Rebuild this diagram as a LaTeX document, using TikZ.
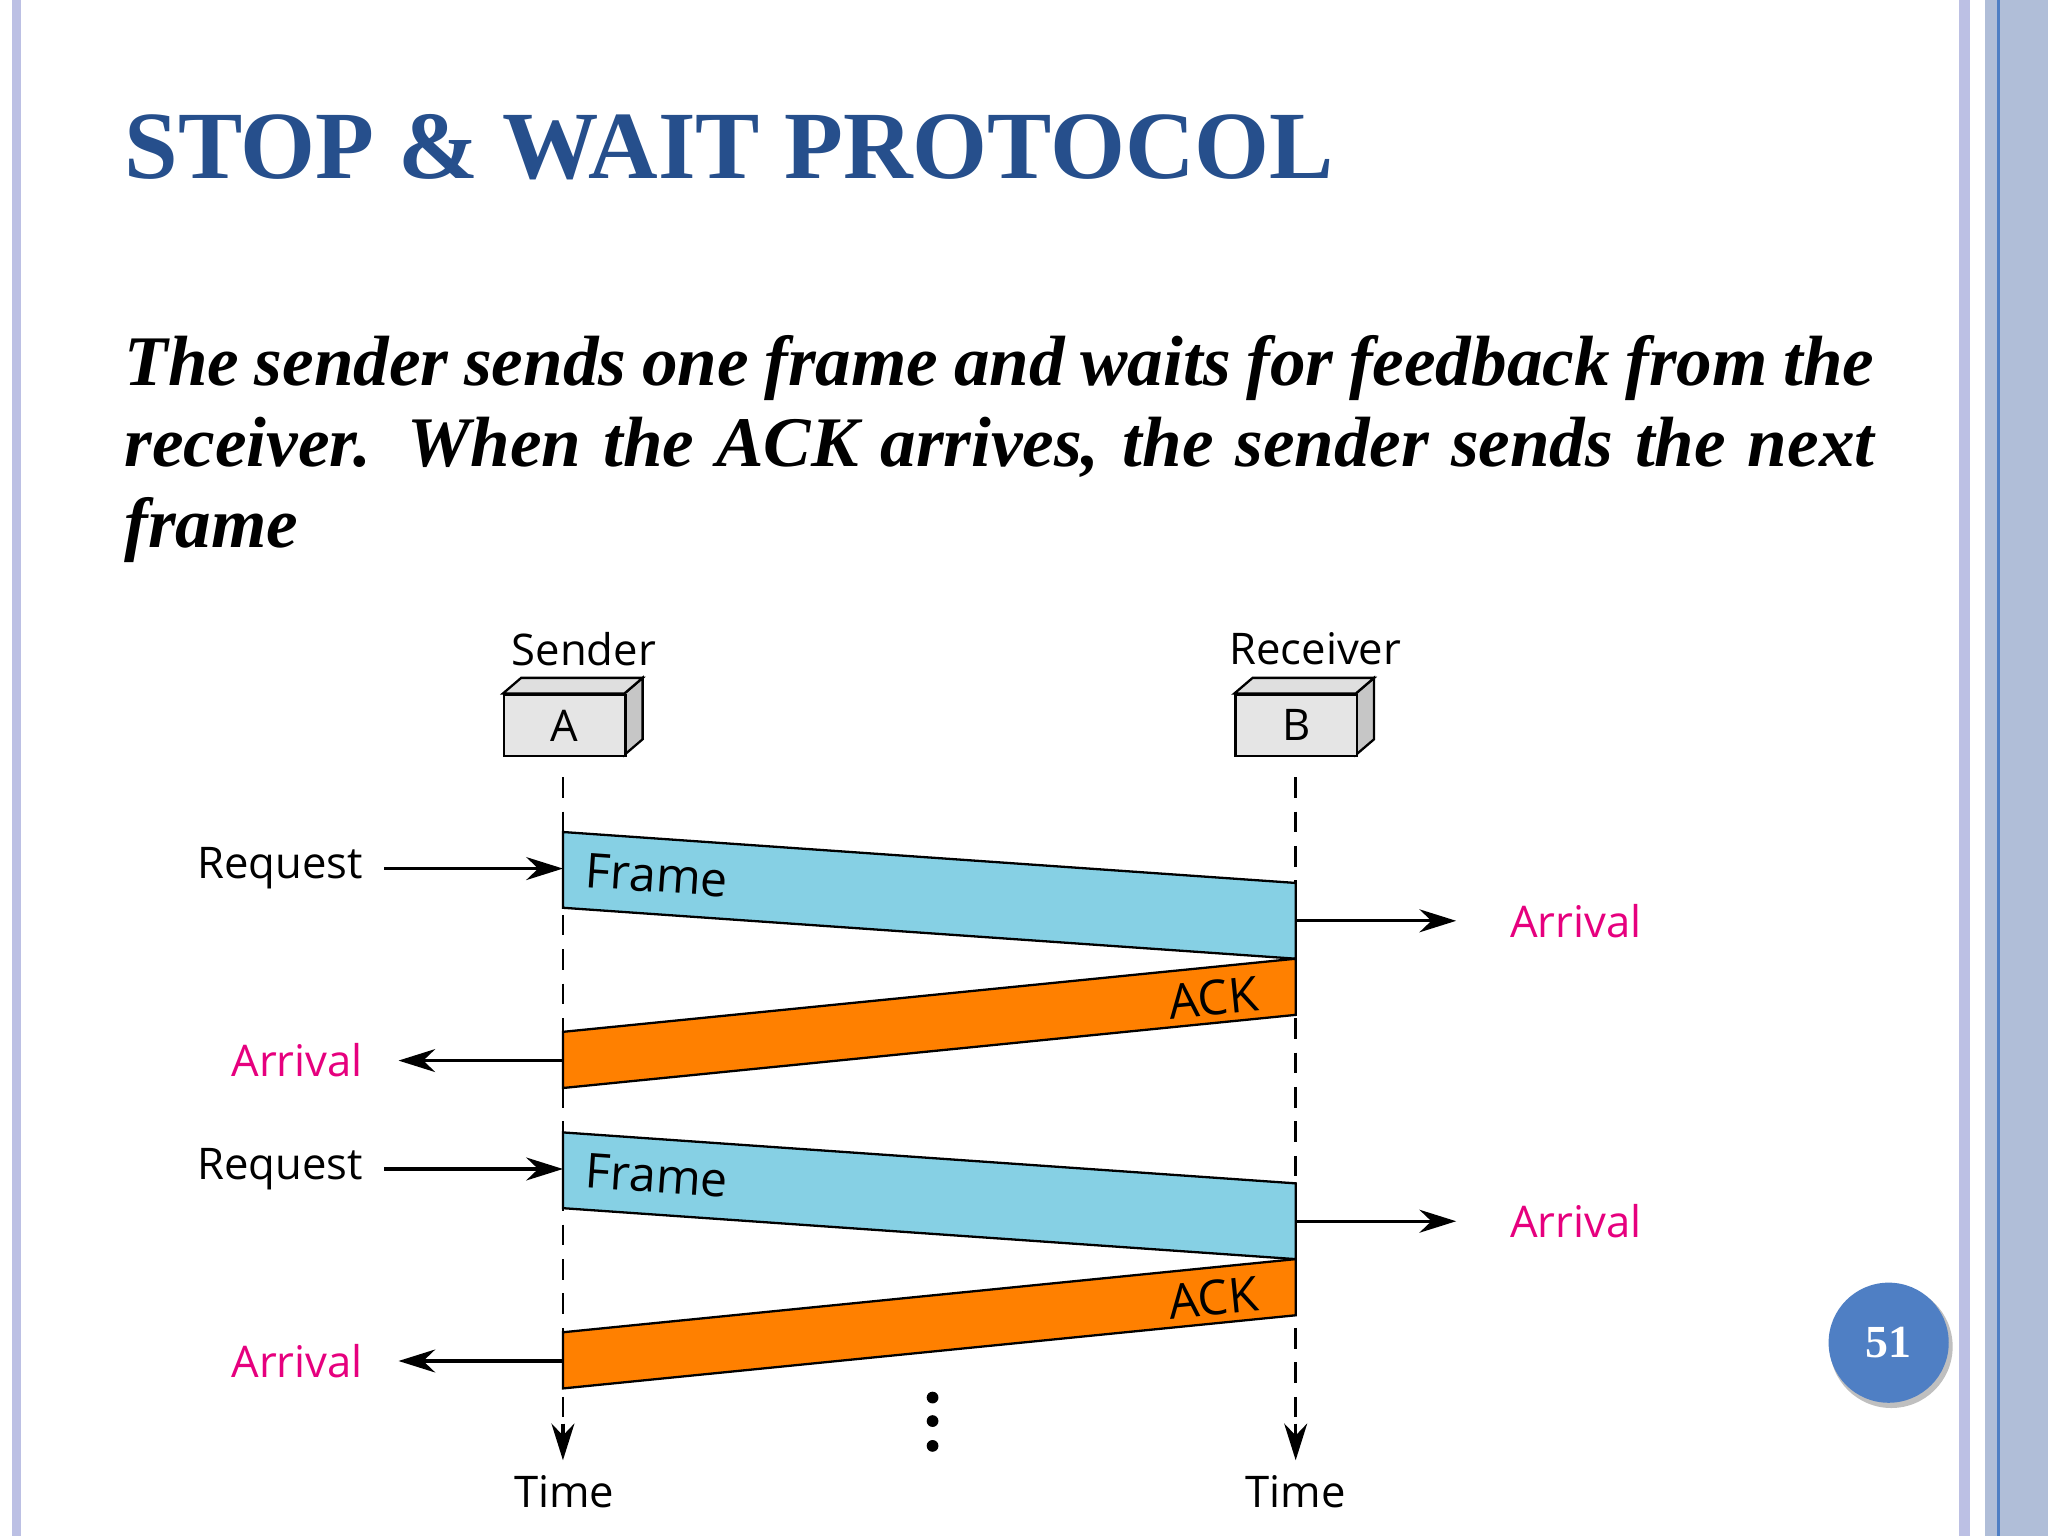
\documentclass[tikz,border=0pt]{standalone}
\usepackage{fontspec}
\setmainfont{Liberation Serif}
\newfontfamily\dsans{Open Sans}
\usetikzlibrary{arrows.meta}
\definecolor{titleblue}{HTML}{264F8C}
\definecolor{framec}{HTML}{86D0E4}
\definecolor{ackc}{HTML}{FF8000}
\definecolor{mag}{HTML}{E6007E}
\definecolor{band}{HTML}{B0BED8}
\definecolor{bandl}{HTML}{BCC0E4}
\definecolor{pg}{HTML}{4F7FC4}
\tikzset{
  lbl/.style={font=\dsans\fontsize{19}{22}\selectfont},
  arr/.style={line width=1.4pt,-{Stealth[length=16pt,width=10pt]}},
  life/.style={line width=1.1pt,dashed,dash pattern=on 9pt off 6pt},
  pkt/.style={draw=black,line width=1pt},
}
\begin{document}
\begin{tikzpicture}[x=0.02cm,y=-0.02cm]
\useasboundingbox (0,0) rectangle (1568,1176);
% borders
\fill[bandl] (9,0) rectangle (16,1176);
\fill[bandl] (1500,0) rectangle (1508,1176);
\fill[band] (1520,0) rectangle (1568,1176);
\draw[pg,line width=1pt] (1530,0) -- (1530,1176);
% title
\node[anchor=base west,inner sep=0,text=titleblue,font=\bfseries\fontsize{42}{46}\selectfont] (title) at (95,137) {STOP \& WAIT PROTOCOL};
\node[anchor=base west,inner sep=0,text width=26.8cm,align=justify,font=\bfseries\itshape\fontsize{31}{35.3}\selectfont] (para) at (95,295)
 {\hyphenpenalty=10000\exhyphenpenalty=10000 The sender sends one frame and waits for feedback from the receiver. When the ACK arrives, the sender sends the next frame};
% boxes
\foreach \n/\x/\t in {A/385/A,B/945/B}{
  \fill[gray!45,draw=black,line width=1pt] (\x+93,531) -- (\x+107,519) -- (\x+107,566) -- (\x+93,578) -- cycle;
  \fill[gray!25,draw=black,line width=1pt] (\x,531) -- (\x+14,519) -- (\x+107,519) -- (\x+93,531) -- cycle;
  \node[draw=black,line width=1pt,fill=gray!20,minimum width=1.86cm,minimum height=0.94cm,anchor=north west,inner sep=0,lbl] (box\n) at (\x,531) {\t};
}
\node[lbl] (snd) at (447,497) {Sender};
\node[lbl] (rcv) at (1007,497) {Receiver};
\coordinate (sa) at (431,595); \coordinate (sb) at (431,1118);
\coordinate (ra) at (992,595); \coordinate (rb) at (992,1118);
\draw[life] (sa) -- (431,1090); \draw[arr] (431,1090) -- (sb);
\draw[life] (ra) -- (992,1090); \draw[arr] (992,1090) -- (rb);
\node[lbl] (t1) at (432,1142) {Time};
\node[lbl] (t2) at (992,1142) {Time};
\foreach \d in {0,230}{
  \fill[framec,pkt] (431,637+\d) -- (992,676+\d) -- (992,734+\d) -- (431,695+\d) -- cycle;
  \node[lbl,font=\dsans\fontsize{21}{24}\selectfont,rotate=-4] at (503,670+\d) {Frame};
  \fill[ackc,pkt] (992,734+\d) -- (992,777+\d) -- (431,833+\d) -- (431,790+\d) -- cycle;
  \node[lbl,font=\dsans\fontsize{21}{24}\selectfont,rotate=5.7] at (929,764+\d) {ACK};
  \node[lbl,anchor=east] (rq) at (284,665+\d) {Request};
  \draw[arr] (rq.east)++(10,0) -- (431,665+\d);
  \node[lbl,anchor=west,text=mag] (ar) at (1150,705+\d) {Arrival};
  \draw[arr] (992,705+\d) -- ([xshift=-20]ar.west);
  \node[lbl,anchor=east,text=mag] (al) at (284,812+\d) {Arrival};
  \draw[arr] (431,812+\d) -- ([xshift=12]al.east);
}
\foreach \y in {1070,1088,1107} \fill (714,\y) circle (4.5);
% page number
\fill[black!25] (1448,1031) circle (47);
\node[circle,fill=pg,minimum size=1.84cm,text=white,font=\bfseries\fontsize{20}{22}\selectfont] (pn) at (1446,1028) {51};
\end{tikzpicture}
\end{document}
